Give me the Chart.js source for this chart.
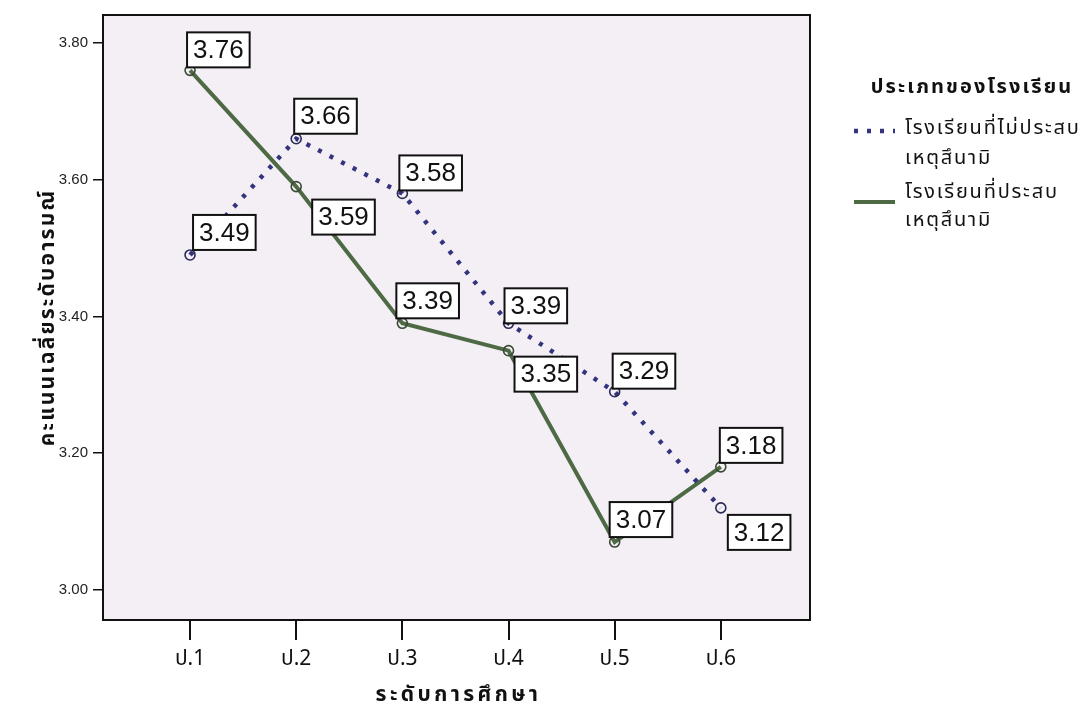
<!DOCTYPE html>
<html>
<head>
<meta charset="utf-8">
<script src="https://cdn.jsdelivr.net/npm/chart.js@4/dist/chart.umd.min.js"></script>
<style>
  html, body { margin: 0; padding: 0; background: #ffffff; }
  #wrap { position: relative; width: 1082px; height: 715px; }
</style>
</head>
<body>
<div id="wrap"><canvas id="c" width="1082" height="715"></canvas></div>
<script>
// ---- data ----
const categories = ['ป.1', 'ป.2', 'ป.3', 'ป.4', 'ป.5', 'ป.6'];
const seriesNames = ['โรงเรียนที่ไม่ประสบ\nเหตุสึนามิ', 'โรงเรียนที่ประสบ\nเหตุสึนามิ'];
const notAffected = [3.49, 3.66, 3.58, 3.39, 3.29, 3.12];
const affected = [3.76, 3.59, 3.39, 3.35, 3.07, 3.18];
const yTicks = [3.00, 3.20, 3.40, 3.60, 3.80];
const legendTitle = 'ประเภทของโรงเรียน';
const xTitle = 'ระดับการศึกษา';
const yTitle = 'คะแนนเฉลี่ยระดับอารมณ์';

// ---- style (label box placement relative to point) ----
const labelOffsets = [
  [[3, -5, 'above'], [-2, -5, 'above'], [-3, -3, 'above'], [-4, 0, 'above'], [-2, -3, 'above'], [7, 7, 'below']],
  [[-3, -3, 'above'], [16, 13, 'below'], [-6, -5, 'above'], [6, 6, 'below'], [-5, -5, 'above'], [-1, -4, 'above']]
];

const THAI = "'Noto Sans Thai', 'Noto Sans Thai Looped', 'Tahoma', 'Noto Sans', 'DejaVu Sans', sans-serif";
const NUM = "'Liberation Sans', Arial, sans-serif";

function spacedText(ctx, txt, x, y, spacing) {
  ctx.letterSpacing = spacing + 'px';
  ctx.fillText(txt, x, y);
  ctx.letterSpacing = '0px';
}

const bgPlugin = {
  id: 'bgFrame',
  beforeDraw(chart) {
    const { ctx, chartArea: a } = chart;
    ctx.save();
    ctx.fillStyle = '#ffffff';
    ctx.fillRect(0, 0, chart.width, chart.height);
    ctx.fillStyle = '#f3eff5';
    ctx.fillRect(a.left, a.top, a.right - a.left, a.bottom - a.top);
    ctx.restore();
  },
  afterDraw(chart) {
    const { ctx, chartArea: a } = chart;
    ctx.save();
    ctx.strokeStyle = '#111111';
    ctx.lineWidth = 2;
    ctx.strokeRect(a.left, a.top, a.right - a.left, a.bottom - a.top);
    // axis titles
    ctx.fillStyle = '#111111';
    ctx.textAlign = 'center';
    ctx.textBaseline = 'middle';
    ctx.font = 'bold 21px ' + THAI;
    spacedText(ctx, xTitle, (a.left + a.right) / 2 + 2, 697, 3.4);
    ctx.save();
    ctx.translate(50, (a.top + a.bottom) / 2);
    ctx.rotate(-Math.PI / 2);
    ctx.font = 'bold 21px ' + THAI;
    spacedText(ctx, yTitle, 0, 0, 2.2);
    ctx.restore();
    ctx.restore();
  }
};

const labelPlugin = {
  id: 'valueBoxes',
  afterDatasetsDraw(chart) {
    const { ctx } = chart;
    ctx.save();
    ctx.font = '26px ' + NUM;
    ctx.textBaseline = 'middle';
    ctx.textAlign = 'center';
    chart.data.datasets.forEach((ds, di) => {
      const meta = chart.getDatasetMeta(di);
      meta.data.forEach((pt, i) => {
        const txt = ds.data[i].y.toFixed(2);
        const w = ctx.measureText(txt).width + 12;
        const h = 35;
        const [dx, dy, mode] = labelOffsets[di][i];
        const left = pt.x + dx;
        const top = mode === 'above' ? pt.y + dy - h : pt.y + dy;
        ctx.fillStyle = '#ffffff';
        ctx.fillRect(left, top, w, h);
        ctx.strokeStyle = '#111111';
        ctx.lineWidth = 2;
        ctx.strokeRect(left, top, w, h);
        ctx.fillStyle = '#111111';
        ctx.fillText(txt, left + w / 2, top + h / 2 + 1);
      });
    });
    ctx.restore();
  }
};

const legendPlugin = {
  id: 'sideLegend',
  afterDraw(chart) {
    const { ctx } = chart;
    ctx.save();
    ctx.fillStyle = '#111111';
    ctx.textBaseline = 'middle';
    ctx.textAlign = 'center';
    ctx.font = 'bold 20px ' + THAI;
    spacedText(ctx, legendTitle, 972, 89, 2.1);
    ctx.textAlign = 'left';
    ctx.font = '20px ' + THAI;
    const rows = [[130, 160, 131], [194, 222, 202]];
    chart.data.datasets.forEach((ds, di) => {
      const lines = seriesNames[di].split('\n');
      const [y1, y2, sy] = rows[di];
      ctx.fillStyle = '#111111';
      spacedText(ctx, lines[0], 905, y1, 1.8);
      spacedText(ctx, lines[1], 905, y2, 1.8);
      ctx.beginPath();
      ctx.strokeStyle = ds.borderColor;
      ctx.lineWidth = ds.borderWidth;
      ctx.setLineDash(ds.borderDash || []);
      ctx.moveTo(854, sy);
      ctx.lineTo(895, sy);
      ctx.stroke();
      ctx.setLineDash([]);
    });
    ctx.restore();
  }
};

const toPoints = arr => arr.map((v, i) => ({ x: i + 1, y: v }));

new Chart(document.getElementById('c'), {
  type: 'line',
  data: {
    datasets: [
      {
        label: seriesNames[0],
        data: toPoints(notAffected),
        borderColor: '#34347e',
        borderWidth: 4.5,
        borderDash: [4, 9],
        borderCapStyle: 'butt',
        pointRadius: 5,
        pointBorderWidth: 1.6,
        pointBorderColor: '#2a2a55',
        pointBackgroundColor: 'rgba(255,255,255,0)',
        tension: 0
      },
      {
        label: seriesNames[1],
        data: toPoints(affected),
        borderColor: '#4d6a44',
        borderWidth: 4,
        pointRadius: 5,
        pointBorderWidth: 1.6,
        pointBorderColor: '#3a4a36',
        pointBackgroundColor: 'rgba(255,255,255,0)',
        tension: 0
      }
    ]
  },
  options: {
    responsive: false,
    animation: false,
    layout: { padding: { top: 15, right: 272, left: 0, bottom: 0 } },
    plugins: { legend: { display: false }, tooltip: { enabled: false } },
    scales: {
      x: {
        type: 'linear',
        min: 0.18,
        max: 6.84,
        afterBuildTicks(scale) { scale.ticks = categories.map((c, i) => ({ value: i + 1 })); },
        afterFit(scale) { scale.height = 95; },
        ticks: {
          autoSkip: false,
          maxRotation: 0,
          padding: 8,
          color: '#111111',
          font: { family: THAI, size: 21 },
          callback: v => categories[v - 1]
        },
        grid: { drawOnChartArea: false, drawTicks: true, tickLength: 20, color: '#111111', lineWidth: 2 },
        border: { display: true, color: '#111111', width: 2 },
        title: { display: false }
      },
      y: {
        min: 2.956,
        max: 3.841,
        afterBuildTicks(scale) { scale.ticks = yTicks.map(v => ({ value: v })); },
        afterFit(scale) { scale.width = 103; },
        ticks: {
          padding: 5,
          color: '#222222',
          font: { family: NUM, size: 15 },
          callback: v => Number(v).toFixed(2)
        },
        grid: { drawOnChartArea: false, drawTicks: true, tickLength: 10, color: '#111111', lineWidth: 1.5 },
        border: { display: true, color: '#111111', width: 2 },
        title: { display: false }
      }
    }
  },
  plugins: [bgPlugin, labelPlugin, legendPlugin]
});
</script>
</body>
</html>
